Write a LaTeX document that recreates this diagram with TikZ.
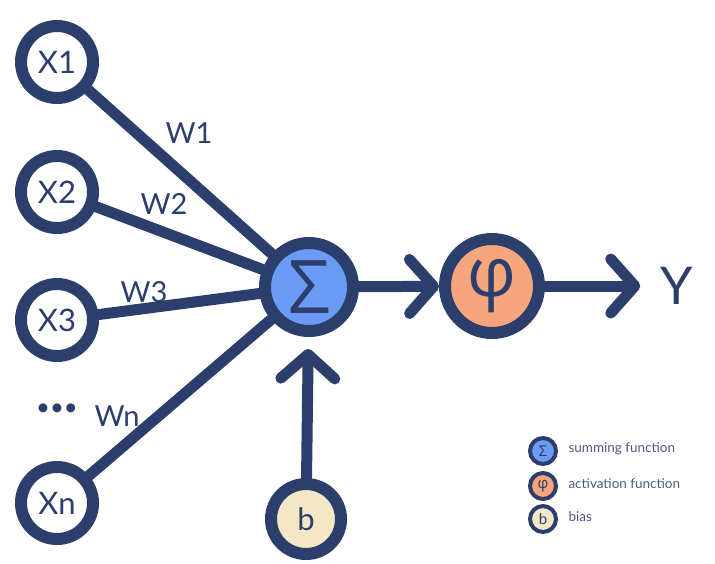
\documentclass[tikz,border=0pt]{standalone}
\usepackage{fontspec}
\setmainfont{Lato}
\newfontfamily\grk{Open Sans}
\usetikzlibrary{arrows.meta}
\definecolor{navy}{RGB}{44,62,107}
\definecolor{sumblue}{RGB}{108,155,245}
\definecolor{actpeach}{RGB}{245,166,124}
\definecolor{biascream}{RGB}{243,231,198}
\begin{document}
\begin{tikzpicture}[x=1pt,y=-1pt, line join=round, line cap=round,
    unit/.style={circle, draw=navy, line width=12pt, text=navy, inner sep=0pt},
    inp/.style={unit, fill=white, minimum size=72pt, font=\fontsize{31}{31}\selectfont},
    wire/.style={draw=navy, line width=11pt},
    arr/.style={wire, -{Straight Barb[length=24pt,width=54pt,round]}},
    wlab/.style={text=navy, font=\fontsize{29}{29}\selectfont},
    key/.style={circle, draw=navy, line width=4pt, text=navy, inner sep=0pt, minimum size=26pt, font=\fontsize{15}{15}\selectfont},
    keytxt/.style={anchor=west, text=navy!85, font=\fontsize{13.5}{13.5}\selectfont}]
  \useasboundingbox (0,0) rectangle (715,563);
  % main units
  \node[unit, fill=sumblue, minimum size=88pt, font=\grk\fontsize{74}{74}\selectfont] (sum) at (309,287) {Σ};
  \node[unit, fill=actpeach, minimum size=94pt, font=\grk\fontsize{68}{68}\selectfont] (phi) at (492,286) {φ};
  \node[unit, fill=biascream, minimum size=70pt, font=\fontsize{31}{31}\selectfont] (bias) at (306,519) {b};
  \node[text=navy, font=\fontsize{52}{52}\selectfont] (out) at (677,286) {Y};
  % inputs
  \foreach \i/\lab/\yy in {1/X1/62, 2/X2/192, 3/X3/320, 4/Xn/503}
    \node[inp] (x\i) at (57,\yy) {\lab};
  \foreach \i in {1,...,4}
    \draw[wire] (x\i) -- (sum);
  \node[wlab] (w1) at (189,133) {W1};
  \node[wlab] (w2) at (164,204) {W2};
  \node[wlab] (w3) at (144,292) {W3};
  \node[wlab] (wn) at (117,416) {Wn};
  \node[wlab, font=\fontsize{24}{24}\selectfont] (dots) at (57,410) {•••};
  % arrows
  \draw[arr] (sum) -- (phi);
  \draw[arr, shorten >=12pt] (bias) -- (sum);
  \draw[arr, shorten >=17pt] (phi) -- (out);
  % legend
  \foreach \k/\sym/\col/\txt/\yy in {1/{\grk Σ}/sumblue/summing function/451,
                                      2/{\grk φ}/actpeach/activation function/486,
                                      3/b/biascream/bias/519}
  {
    \node[key, fill=\col] (k\k) at (543,\yy) {\sym};
    \node[keytxt] (t\k) at (565,\yy-2) {\txt};
  }
\end{tikzpicture}
\end{document}
